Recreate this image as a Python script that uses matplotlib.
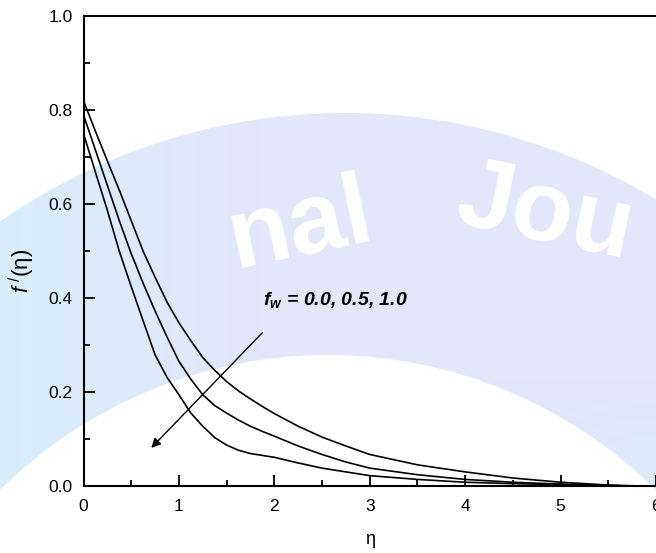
import numpy as np
import matplotlib.pyplot as plt
from matplotlib.patches import Circle

plt.rcParams['font.family'] = ['Liberation Sans', 'DejaVu Sans']
plt.rcParams['mathtext.fontset'] = 'custom'
plt.rcParams['mathtext.rm'] = 'Liberation Sans'
plt.rcParams['mathtext.it'] = 'Liberation Sans:italic'
plt.rcParams['mathtext.bf'] = 'Liberation Sans:bold:italic'

# values
eta = [0, 0.125, 0.25, 0.375, 0.5, 0.625, 0.75, 0.875, 1.0, 1.125, 1.25, 1.375, 1.5,
       1.625, 1.75, 1.875, 2.0, 2.25, 2.5, 2.75, 3.0, 3.5, 4.0, 4.5, 5.0, 5.5, 6.0]
f_fw00 = [0.820, 0.755, 0.692, 0.630, 0.565, 0.500, 0.445, 0.392, 0.348, 0.310, 0.274, 0.247, 0.223,
          0.203, 0.186, 0.170, 0.155, 0.128, 0.105, 0.086, 0.068, 0.046, 0.031, 0.018, 0.009, 0.003, 0.0]
f_fw05 = [0.790, 0.715, 0.640, 0.565, 0.495, 0.432, 0.373, 0.318, 0.266, 0.228, 0.195, 0.172, 0.156,
          0.141, 0.128, 0.117, 0.107, 0.086, 0.068, 0.052, 0.039, 0.025, 0.015, 0.009, 0.005, 0.002, 0.0]
f_fw10 = [0.750, 0.668, 0.587, 0.500, 0.425, 0.352, 0.280, 0.232, 0.195, 0.156, 0.128, 0.104, 0.088,
          0.077, 0.070, 0.066, 0.062, 0.050, 0.039, 0.031, 0.023, 0.015, 0.009, 0.006, 0.004, 0.002, 0.0]

W, H = 656, 553
fig = plt.figure(figsize=(W / 100, H / 100), dpi=100)

# faint journal watermark (pale band with white letters) behind the plot
bg = fig.add_axes([0, 0, 1, 1], zorder=-1)
bg.set_xlim(0, W)
bg.set_ylim(H, 0)
bg.axis('off')
yy, xx = np.mgrid[0:H, 0:W]
w_cyan = np.clip((260 - xx) / 260, 0, 1) + np.clip((yy - 380) / 150, 0, 1) * np.clip((xx - 480) / 150, 0, 1)
w_cyan = np.clip(w_cyan, 0, 1)[..., None]
lav = np.array([228, 230, 250]) / 255
cyan = np.array([216, 238, 250]) / 255
img = lav * (1 - w_cyan) + cyan * w_cyan
outer = Circle((345, 716), 603, transform=bg.transData, facecolor='none', edgecolor='none')
bg.add_patch(outer)
im = bg.imshow(img, extent=(0, W, H, 0), aspect='auto', interpolation='bilinear')
im.set_clip_path(outer)
bg.add_patch(Circle((328, 821), 466, facecolor='white', edgecolor='none', zorder=3))
bg.text(300, 228, 'nal', fontsize=72, fontweight='bold', color='white', rotation=12,
        ha='center', va='center', zorder=4)
bg.text(545, 215, 'Jou', fontsize=72, fontweight='bold', color='white', rotation=-12,
        ha='center', va='center', zorder=4)

ax = fig.add_axes([0.1273, 0.1203, 0.8727, 0.8507])
ax.patch.set_alpha(0)

for f in (f_fw00, f_fw05, f_fw10):
    ax.plot(eta, f, color='black', lw=1.2)

ax.set_xlim(0, 6)
ax.set_ylim(0, 1.0)
ax.set_xticks([0, 1, 2, 3, 4, 5, 6])
ax.set_yticks([0.0, 0.2, 0.4, 0.6, 0.8, 1.0])
ax.set_yticklabels(['0.0', '0.2', '0.4', '0.6', '0.8', '1.0'])
ax.set_xticks(np.arange(0.5, 6, 1.0), minor=True)
ax.set_yticks(np.arange(0.1, 1.0, 0.2), minor=True)
ax.tick_params(which='both', direction='in', top=False, right=False, labelsize=12.5, width=1.3)
ax.tick_params(which='major', length=8)
ax.tick_params(axis='x', which='major', pad=9)
ax.tick_params(axis='y', which='major', pad=8)
ax.tick_params(which='minor', length=4.5)
for s in ax.spines.values():
    s.set_linewidth(1.5)
ax.spines['right'].set_visible(False)

ax.set_xlabel('η', fontsize=13, labelpad=12)
fig.text(22 / W, 1 - 271 / H, r'$\mathit{f}^{\;/}$(η)', fontsize=16, rotation=90,
         ha='center', va='center')

ax.annotate('', xy=(0.71, 0.082), xytext=(1.875, 0.327),
            arrowprops=dict(arrowstyle='-|>', color='black', lw=1.0,
                            mutation_scale=14, shrinkA=0, shrinkB=0))
ax.text(1.88, 0.397, r'$\mathbf{f}_{\mathbf{w}}$' + ' = 0.0, 0.5, 1.0',
        fontsize=14, fontweight='bold', fontstyle='italic', va='center')

fig.savefig('out.png', dpi=100)
